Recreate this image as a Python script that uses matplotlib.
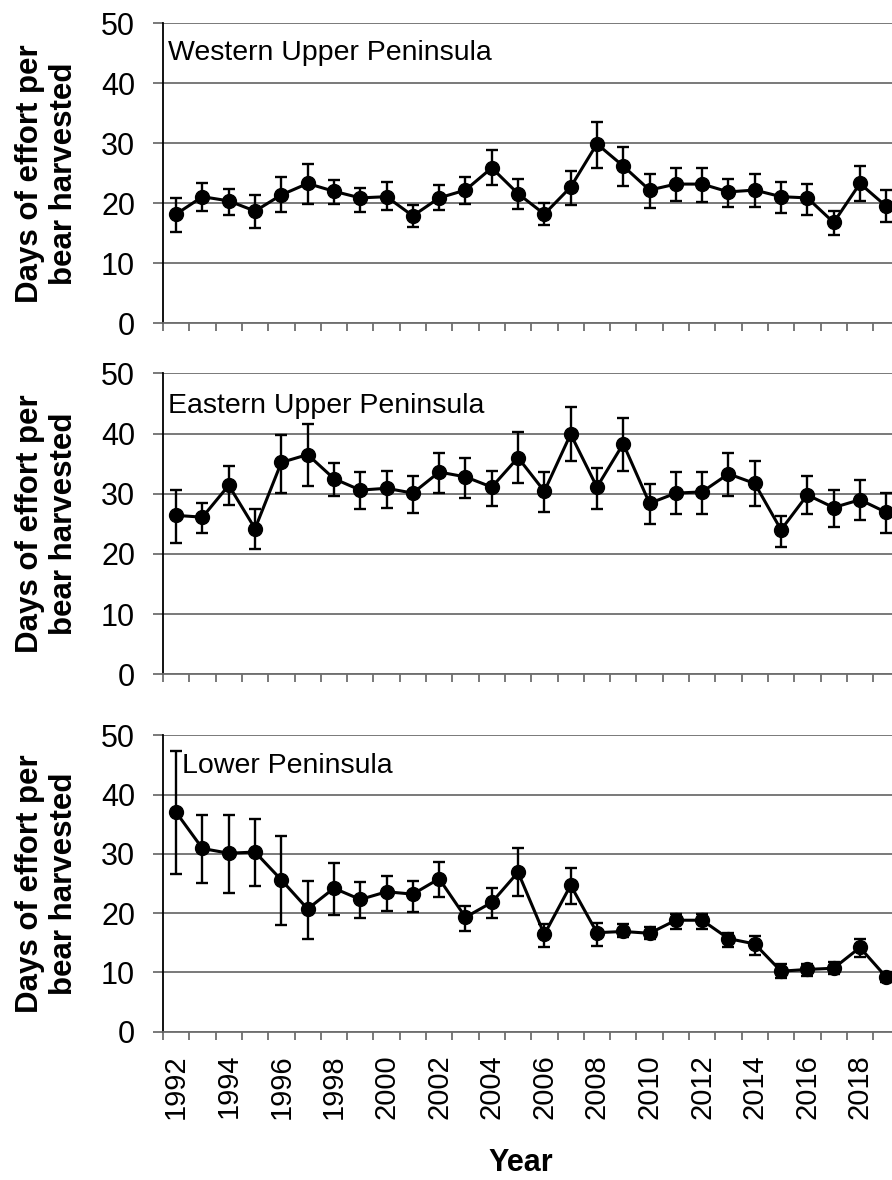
import numpy as np
import matplotlib.pyplot as plt

plt.rcParams['font.family'] = ['Liberation Sans', 'DejaVu Sans']

years = list(range(1992, 2020))

# Western Upper Peninsula
wup_mean = [18.2, 21.1, 20.4, 18.7, 21.4, 23.3, 22.0, 20.9, 21.1, 17.9, 20.9, 22.2, 25.9, 21.6,
            18.2, 22.7, 29.9, 26.2, 22.2, 23.2, 23.2, 21.9, 22.2, 21.1, 20.9, 16.8, 23.3, 19.5]
wup_upper = [20.8, 23.3, 22.4, 21.4, 24.4, 26.5, 23.8, 22.6, 23.5, 19.7, 23.0, 24.3, 28.8, 24.0,
             20.0, 25.4, 33.6, 29.4, 24.9, 25.9, 25.9, 24.0, 24.9, 23.5, 23.2, 18.7, 26.2, 22.2]
wup_lower = [15.2, 18.7, 18.0, 15.8, 18.5, 19.8, 19.8, 18.5, 18.8, 16.1, 18.8, 19.8, 23.0, 19.1,
             16.3, 19.7, 25.9, 22.9, 19.2, 20.4, 20.2, 19.3, 19.3, 18.4, 18.1, 14.7, 20.3, 16.8]

# Eastern Upper Peninsula
eup_mean = [26.4, 26.1, 31.4, 24.2, 35.2, 36.5, 32.5, 30.6, 30.9, 30.1, 33.6, 32.8, 31.1, 36.0,
            30.4, 39.9, 31.1, 38.3, 28.4, 30.1, 30.3, 33.3, 31.7, 24.0, 29.8, 27.7, 29.0, 26.9]
eup_upper = [30.6, 28.4, 34.6, 27.4, 39.7, 41.6, 35.1, 33.6, 33.8, 32.9, 36.8, 35.9, 33.8, 40.2,
             33.6, 44.4, 34.3, 42.5, 31.6, 33.6, 33.6, 36.8, 35.4, 26.3, 32.9, 30.6, 32.2, 30.1]
eup_lower = [21.8, 23.4, 28.2, 20.8, 30.1, 31.2, 29.6, 27.4, 27.7, 26.8, 30.2, 29.3, 27.9, 31.7,
             26.9, 35.4, 27.4, 33.8, 25.0, 26.6, 26.6, 29.6, 27.9, 21.1, 26.6, 24.5, 25.6, 23.4]

# Lower Peninsula
lp_mean = [37.0, 30.9, 30.1, 30.3, 25.6, 20.7, 24.2, 22.3, 23.6, 23.2, 25.8, 19.3, 21.8, 26.9,
           16.4, 24.7, 16.7, 16.9, 16.6, 18.8, 18.8, 15.7, 14.8, 10.2, 10.5, 10.7, 14.2, 9.2]
lp_upper = [47.4, 36.5, 36.5, 35.9, 33.0, 25.5, 28.5, 25.2, 26.3, 25.5, 28.7, 21.2, 24.2, 30.9,
            18.2, 27.6, 18.3, 18.1, 17.6, 19.9, 19.9, 16.7, 16.1, 11.4, 11.4, 11.7, 15.6, 10.0]
lp_lower = [26.6, 25.0, 23.4, 24.5, 18.0, 15.6, 19.6, 19.1, 20.4, 20.2, 22.8, 17.0, 19.1, 22.9,
            14.3, 21.5, 14.5, 15.9, 15.6, 17.4, 17.4, 14.2, 12.9, 9.1, 9.4, 9.7, 12.6, 8.4]

regions = ['Western Upper Peninsula', 'Eastern Upper Peninsula', 'Lower Peninsula']
ylabel = 'Days of effort per\nbear harvested'
grey = '#6e6e6e'


def panel(fig, rect, mean, upper, lower, name, name_x, name_y, show_xlabels):
    ax = fig.add_axes(rect)
    m = np.array(mean)
    err = [m - np.array(lower), np.array(upper) - m]
    ax.errorbar(years, m, yerr=err, color='black', lw=2.2, marker='o', ms=10,
                elinewidth=1.7, capsize=4.5, capthick=1.7, clip_on=False, zorder=3)

    ax.set_xlim(1991.5, 2019.5)
    ax.set_ylim(0, 50)
    ax.set_yticks([0, 10, 20, 30, 40, 50])
    ax.grid(axis='y', color=grey, lw=1.3)
    ax.set_axisbelow(True)

    for s in ['top', 'right']:
        ax.spines[s].set_visible(False)
    ax.spines['left'].set_color('black')
    ax.spines['left'].set_linewidth(1.3)
    ax.spines['bottom'].set_color(grey)
    ax.spines['bottom'].set_linewidth(1.3)

    ax.tick_params(axis='y', length=7, width=1.3, color=grey, pad=13, labelsize=22)
    ax.set_xticks(years[::2])
    ax.set_xticks(np.arange(1991.5, 2020, 1.0), minor=True)
    ax.tick_params(axis='x', which='major', length=0, pad=16, labelsize=21,
                   labelrotation=90, labelbottom=show_xlabels)
    ax.tick_params(axis='x', which='minor', length=6, width=1.3, color=grey)

    ax.text(name_x, name_y, name, transform=ax.transAxes, fontsize=20.5,
            ha='left', va='baseline')

    cy = rect[1] + rect[3] / 2
    fig.text(47 / 892, cy, ylabel, rotation=90, ha='center', va='center',
             fontsize=22.5, fontweight='bold', multialignment='center', linespacing=1.15)
    return ax


def main():
    fig = plt.figure(figsize=(8.92, 11.8), dpi=100)

    left = 163 / 892
    width = 736.4 / 892
    panel(fig, [left, 0.7260, width, 0.2543], wup_mean, wup_upper, wup_lower,
          regions[0], 0.007, 0.878, False)
    panel(fig, [left, 0.4286, width, 0.2550], eup_mean, eup_upper, eup_lower,
          regions[1], 0.007, 0.868, False)
    panel(fig, [left, 0.1257, width, 0.2512], lp_mean, lp_upper, lp_lower,
          regions[2], 0.026, 0.872, True)

    fig.text(521 / 892, 1 - 1163 / 1180, 'Year', ha='center', va='center',
             fontsize=22, fontweight='bold')

    fig.savefig('out.png', dpi=100)


if __name__ == '__main__':
    main()
